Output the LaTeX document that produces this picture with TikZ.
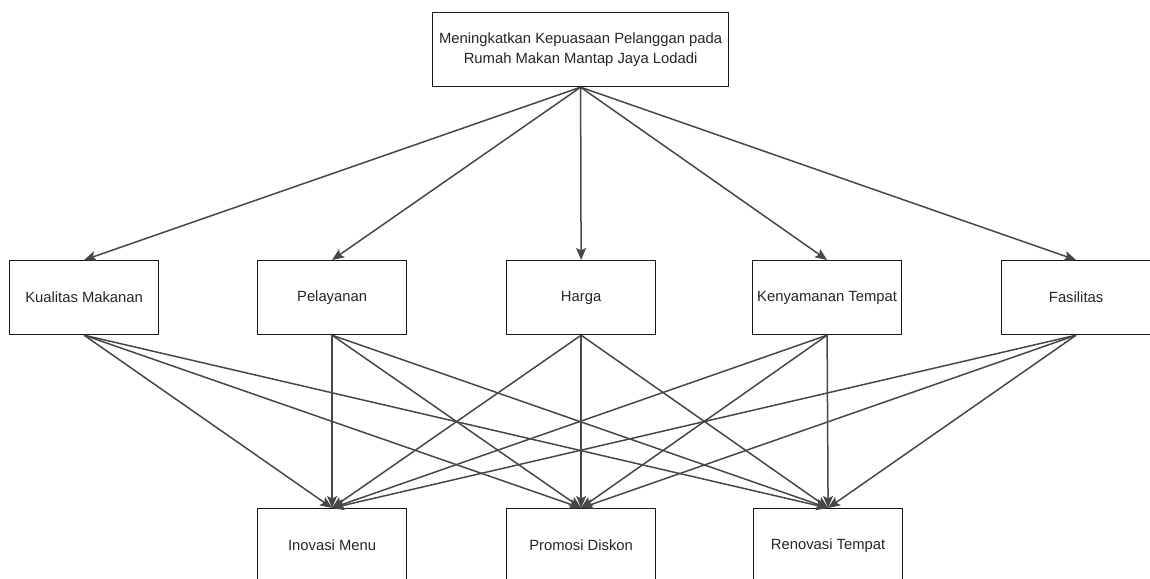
\documentclass[tikz,border=0pt]{standalone}
\usepackage{fontspec}
\setmainfont{Liberation Sans}
\usetikzlibrary{arrows.meta}
\begin{document}
\begin{tikzpicture}[x=1pt,y=-1pt,
  box/.style={draw=black!90, line width=1.2pt, fill=white,
    minimum width=149pt, minimum height=74pt, inner sep=0pt,
    font=\fontsize{14.8}{20.5}\selectfont, text=black!85,
    align=center, anchor=north west},
  link/.style={draw=black!72, line width=1.5pt,
    -{Stealth[length=12pt,width=10pt,inset=2.5pt]}}]
\useasboundingbox (0,0) rectangle (1150,578);
\clip (0,0) rectangle (1150,578);

% goal
\node[box, minimum width=296pt] (goal) at (432,12)
  {Meningkatkan Kepuasaan Pelanggan pada\\Rumah Makan Mantap Jaya Lodadi};

% criteria
\node[box] (kual) at (9,260)   {Kualitas Makanan};
\node[box] (pel)  at (257,260) {Pelayanan};
\node[box] (harga) at (506,260) {Harga};
\node[box] (keny) at (752,260) {Kenyamanan Tempat};
\node[box] (fas)  at (1001,260) {Fasilitas};

% alternatives
\node[box] (inov) at (257,508) {Inovasi Menu};
\node[box] (prom) at (506,508) {Promosi Diskon};
\node[box] (reno) at (753,508) {Renovasi Tempat};

% goal to criteria
\foreach \c in {kual,pel,harga,keny,fas}
  \draw[link] (goal.south) -- (\c.north);

% criteria to alternatives
\foreach \c in {kual,pel,harga,keny,fas}
  \foreach \a in {inov,prom,reno}
    \draw[link] (\c.south) -- (\a.north);
\end{tikzpicture}
\end{document}
